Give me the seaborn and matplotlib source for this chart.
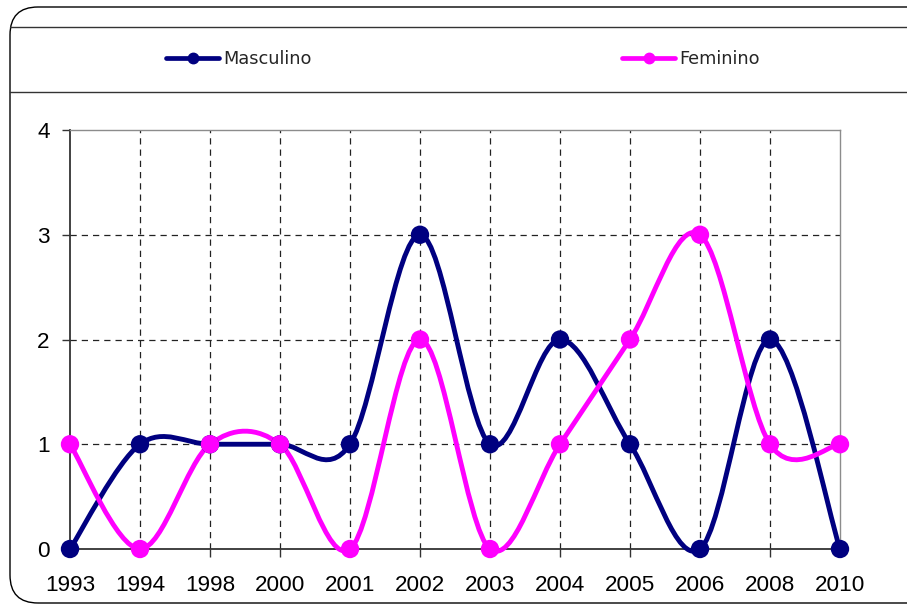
import numpy as np
import pandas as pd
import matplotlib
matplotlib.use('Agg')
import matplotlib.pyplot as plt
import seaborn as sns
from matplotlib.path import Path
from matplotlib.patches import PathPatch, FancyBboxPatch
from matplotlib.lines import Line2D
from matplotlib.transforms import IdentityTransform

# ---- data ----
years = ['1993', '1994', '1998', '2000', '2001', '2002', '2003', '2004', '2005', '2006', '2008', '2010']
masculino = [0, 1, 1, 1, 1, 3, 1, 2, 1, 0, 2, 0]
feminino = [1, 0, 1, 1, 0, 2, 0, 1, 2, 3, 1, 1]
series_names = ['Masculino', 'Feminino']
yticks = [0, 1, 2, 3, 4]

colors = {'Masculino': '#000080', 'Feminino': '#FF00FF'}

sns.set_theme(style='white')
plt.rcParams['font.family'] = ['Liberation Sans', 'DejaVu Sans']

W, H = 907, 606
fig = plt.figure(figsize=(W / 100, H / 100), dpi=100)
ax = fig.add_axes([70 / W, 1 - 549 / H, 770 / W, 419 / H])

df = pd.DataFrame({
    'Ano': years * 2,
    'Valor': masculino + feminino,
    'Sexo': [series_names[0]] * len(years) + [series_names[1]] * len(years),
})


def smooth_path(pts):
    pts = np.asarray(pts, dtype=float)
    ext = np.vstack([pts[0], pts, pts[-1]])
    verts = [pts[0]]
    codes = [Path.MOVETO]
    for i in range(len(pts) - 1):
        p0, p1, p2, p3 = ext[i], ext[i + 1], ext[i + 2], ext[i + 3]
        c1 = p1 + (p2 - p0) / 6.0
        c2 = p2 - (p3 - p1) / 6.0
        verts += [c1, c2, p2]
        codes += [Path.CURVE4] * 3
    return Path(verts, codes)


for name in series_names:
    sub = df[df['Sexo'] == name]
    sns.scatterplot(data=sub, x='Ano', y='Valor', color=colors[name], s=175,
                    edgecolor='none', legend=False, ax=ax, zorder=5)
    coll = ax.collections[-1]
    coll.set_clip_on(False)
    pts = coll.get_offsets()
    patch = PathPatch(smooth_path(pts), facecolor='none', edgecolor=colors[name],
                      lw=3.5, zorder=4, capstyle='round', joinstyle='round')
    patch.set_clip_on(False)
    ax.add_patch(patch)

ax.set_xlim(0, len(years) - 1)
ax.set_ylim(yticks[0], yticks[-1])
ax.set_yticks(yticks)
ax.set_xticks(range(len(years)))
ax.set_xticklabels(years)
ax.set_xlabel('')
ax.set_ylabel('')
ax.grid(False)

# dashed gridlines (inner only)
dash = (0, (5, 4))
for yv in yticks[1:-1]:
    ax.axhline(yv, color='#222222', lw=0.9, ls=dash, zorder=1)
for xv in range(1, len(years) - 1):
    ax.axvline(xv, color='#222222', lw=0.9, ls=dash, zorder=1)

for s in ['left', 'bottom']:
    ax.spines[s].set_color('#333333')
    ax.spines[s].set_linewidth(1.3)
for s in ['top', 'right']:
    ax.spines[s].set_color('#8c8c8c')
    ax.spines[s].set_linewidth(1.0)

ax.tick_params(axis='both', direction='out', length=6, width=1, color='#333333',
               labelsize=16.2, labelcolor='black', bottom=True, left=True)
ax.tick_params(axis='x', pad=13)
ax.tick_params(axis='y', pad=8.5)

# legend entries
legend_x = {'Masculino': 166, 'Feminino': 622}
for name in series_names:
    h = Line2D([], [], color=colors[name], lw=3.4, marker='o', markersize=7.5)
    fig.legend(handles=[h], labels=[name], loc='center left',
               bbox_to_anchor=(legend_x[name] / W, 1 - 59 / H), frameon=False,
               borderpad=0, borderaxespad=0, handlelength=3.0, handletextpad=0.22,
               prop={'family': 'DejaVu Sans', 'size': 12.8})

# outer rounded border and legend box lines (pixel coordinates)
border = FancyBboxPatch((10, 3), 930, 596, boxstyle='round,pad=0,rounding_size=28',
                        transform=IdentityTransform(), facecolor='none',
                        edgecolor='black', lw=1.0)
fig.add_artist(border)
for yp in [27, 92]:
    fig.add_artist(Line2D([10, W], [H - yp, H - yp], color='#333333', lw=1.0,
                          transform=IdentityTransform()))

fig.savefig('out.png', dpi=100)
